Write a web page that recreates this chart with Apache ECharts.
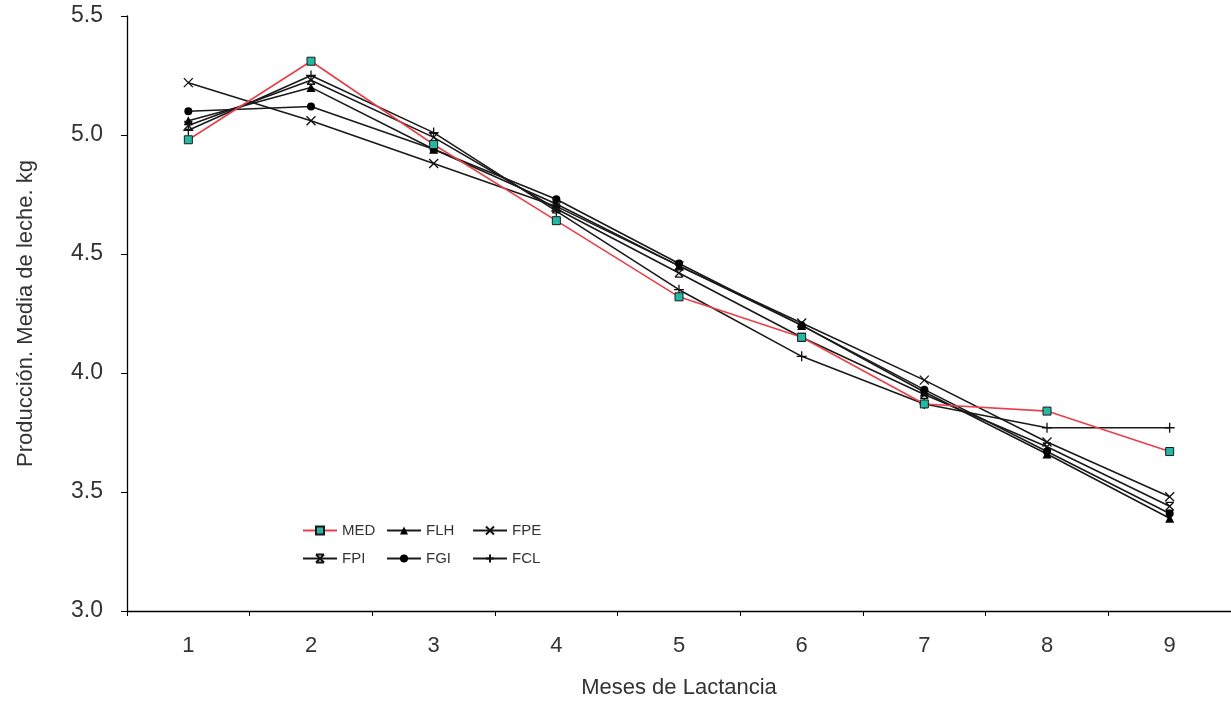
<!DOCTYPE html>
<html>
<head>
<meta charset="utf-8">
<script src="https://cdn.jsdelivr.net/npm/echarts@6/dist/echarts.min.js"></script>
<style>
  html, body { margin: 0; padding: 0; background: #fff; }
  #chart { width: 1231px; height: 704px; }
</style>
</head>
<body>
<div id="chart"></div>
<script>
// meses de lactancia
var months = ['1', '2', '3', '4', '5', '6', '7', '8', '9'];

// produccion media de leche (kg) por grupo
var MED = [4.98, 5.31, 4.96, 4.64, 4.32, 4.15, 3.87, 3.84, 3.67];
var FLH = [5.06, 5.20, 4.94, 4.71, 4.45, 4.20, 3.92, 3.66, 3.39];
var FPE = [5.22, 5.06, 4.88, 4.70, 4.45, 4.21, 3.97, 3.71, 3.48];
var FPI = [5.04, 5.23, 4.99, 4.69, 4.42, 4.15, 3.91, 3.69, 3.44];
var FGI = [5.10, 5.12, 4.94, 4.73, 4.46, 4.20, 3.93, 3.67, 3.41];
var FCL = [5.02, 5.25, 5.01, 4.68, 4.35, 4.07, 3.87, 3.77, 3.77];

var yTicks = { min: 3.0, max: 5.5, step: 0.5 };

var xSym = 'path://M0,0L10,10M10,0L0,10';
var plusSym = 'path://M5,0L5,10M0,5L10,5';
var starSym = 'path://M0,0L10,0M0,10L10,10M0,0L10,10M10,0L0,10';

function mk(name, data, color, symbol, size, itemStyle) {
    return {
        name: name,
        type: 'line',
        data: data,
        symbol: symbol,
        symbolSize: size,
        showAllSymbol: true,
        lineStyle: { color: color, width: 1.6 },
        itemStyle: itemStyle,
        emphasis: { disabled: true },
        z: name === 'MED' ? 3 : 2
    };
}

var series = [
    mk('MED', MED, '#e8404a', 'rect', 8, { color: '#25b8a4', borderColor: '#1a1a1a', borderWidth: 1 }),
    mk('FLH', FLH, '#1a1a1a', 'triangle', 9, { color: '#000' }),
    mk('FPE', FPE, '#1a1a1a', xSym, 9, { color: 'transparent', borderColor: '#111', borderWidth: 1.3 }),
    mk('FPI', FPI, '#1a1a1a', starSym, 8, { color: 'transparent', borderColor: '#111', borderWidth: 1.3 }),
    mk('FGI', FGI, '#1a1a1a', 'circle', 8, { color: '#000' }),
    mk('FCL', FCL, '#1a1a1a', plusSym, 10, { color: 'transparent', borderColor: '#111', borderWidth: 1.3 })
];

var legendPos = [
    ['MED', 297, 518], ['FLH', 381, 518], ['FPE', 467, 518],
    ['FPI', 297, 546], ['FGI', 381, 546], ['FCL', 467, 546]
];
var legends = legendPos.map(function (p) {
    return {
        data: [p[0]],
        left: p[1],
        top: p[2],
        itemWidth: 34,
        itemHeight: 10,
        itemGap: 4,
        selectedMode: false,
        textStyle: { fontFamily: 'Liberation Sans', fontSize: 15, color: '#333' }
    };
});

var chart = echarts.init(document.getElementById('chart'));
chart.setOption({
    animation: false,
    backgroundColor: '#fff',
    legend: legends,
    grid: { left: 127, right: 0, top: 16, bottom: 93, containLabel: false },
    xAxis: {
        type: 'category',
        data: months,
        boundaryGap: true,
        name: 'Meses de Lactancia',
        nameLocation: 'middle',
        nameGap: 66,
        nameTextStyle: { fontFamily: 'Liberation Sans', fontSize: 22, color: '#333' },
        axisLine: { lineStyle: { color: '#000', width: 1.3 } },
        axisTick: { show: true, length: 5, alignWithLabel: false, lineStyle: { color: '#000' } },
        axisLabel: { margin: 24, fontFamily: 'Liberation Sans', fontSize: 22, color: '#333' },
        splitLine: { show: false }
    },
    yAxis: {
        type: 'value',
        min: yTicks.min,
        max: yTicks.max,
        interval: yTicks.step,
        name: 'Producción. Media de leche. kg',
        nameLocation: 'middle',
        nameGap: 90,
        nameTextStyle: { fontFamily: 'Liberation Sans', fontSize: 22, color: '#333' },
        axisLine: { show: true, lineStyle: { color: '#000', width: 1.3 } },
        axisTick: { show: true, length: 6, lineStyle: { color: '#000' } },
        axisLabel: {
            margin: 24,
            fontFamily: 'Liberation Sans',
            fontSize: 23,
            color: '#333',
            formatter: function (v) { return v.toFixed(1); }
        },
        splitLine: { show: false }
    },
    series: series
});
</script>
</body>
</html>
